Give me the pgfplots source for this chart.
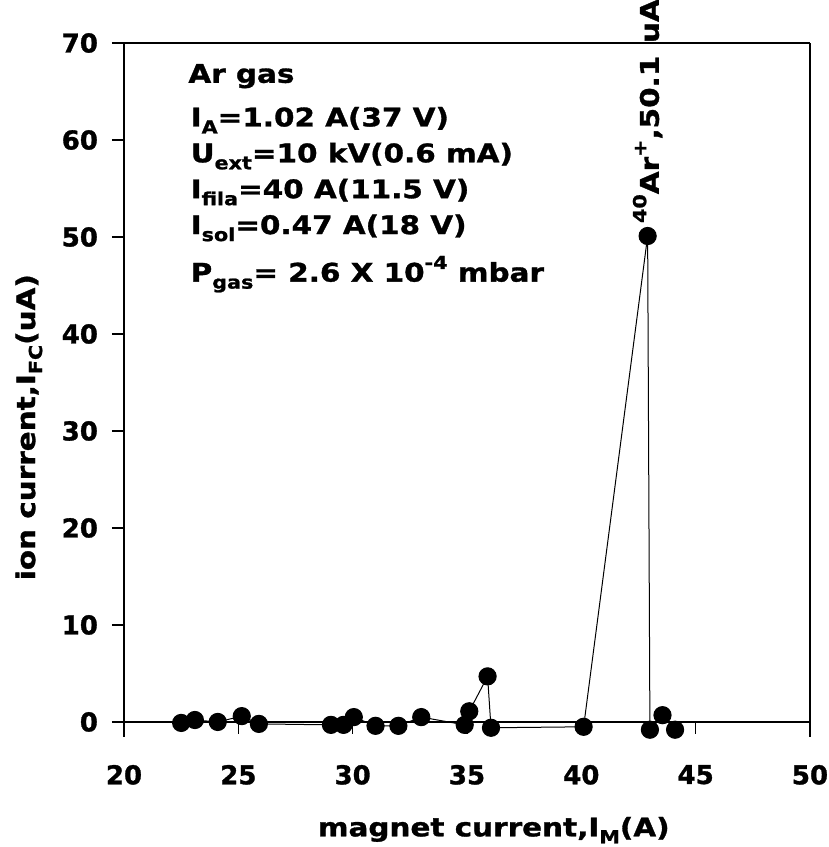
\documentclass[border=0pt]{standalone}
\usepackage{fontspec}
\usepackage{pgfplots}
\pgfplotsset{compat=1.18}
\setmainfont{DejaVu Sans Bold}[FakeBold=1.2]
\newfontfamily\widefont{DejaVu Sans Bold}[FakeStretch=1.15, FakeBold=1.2]
\newcommand{\sub}[1]{\raisebox{-0.5ex}{\fontsize{9}{10}\selectfont #1}}
\newcommand{\sups}[1]{\raisebox{0.9ex}{\fontsize{9}{10}\selectfont #1}}

\begin{document}
\begin{tikzpicture}
\begin{axis}[
  scale only axis,
  width=343pt, height=346.75pt,
  xmin=20, xmax=50, ymin=-1.5, ymax=70,
  axis y line=box,
  axis x line=middle,
  x axis line style={-},
  y axis line style={-},
  axis line style={line width=0.7pt},
  hide obscured x ticks=false,
  xtick={20,25,30,35,40,45,50},
  ytick={0,10,20,30,40,50,60,70},
  ytick pos=left,
  tick align=outside,
  major tick length=6pt,
  tick style={line width=0.6pt, black},
  /pgf/number format/assume math mode=true,
  tick label style={font=\fontsize{13}{15}\selectfont},
  xticklabel style={yshift=-12pt},
  yticklabel style={xshift=-3.5pt},
  xlabel={magnet current,I\sub{M}(A)},
  ylabel={ion current,I\sub{FC}(uA)},
  xlabel style={font=\widefont\fontsize{12.8}{15}\selectfont,
    at={(axis description cs:0.539,-0.135)}, anchor=center},
  ylabel style={font=\widefont\fontsize{12.8}{15}\selectfont,
    at={(axis description cs:-0.1385,0.446)}, anchor=center, rotate=0},
  clip=false,
]
% beam current versus analysing-magnet current
\addplot[black, line width=0.5pt, mark=*, mark size=4.3pt,
  mark options={fill=black}] coordinates {
  (22.5,-0.1) (23.1,0.2) (24.1,0.0) (25.15,0.6) (25.9,-0.2)
  (29.05,-0.3) (29.6,-0.3) (30.05,0.5) (31.0,-0.4) (32.0,-0.4)
  (33.0,0.5) (34.9,-0.3) (35.1,1.1) (35.9,4.7) (36.05,-0.6)
  (40.1,-0.5) (42.9,50.1) (43.0,-0.8) (43.55,0.7) (44.1,-0.8)
};
% top frame line
\draw[line width=0.7pt] (rel axis cs:0,1) -- (rel axis cs:1,1);
% source settings
\begin{scope}[every node/.style={font=\widefont\fontsize{12.8}{15}\selectfont, anchor=base west, inner sep=0pt}]
\node at (axis cs:22.8,65.9) {Ar gas};
\node at (axis cs:22.9,61.4) {I\sub{A}=1.02 A(37 V)};
\node at (axis cs:22.9,57.7) {U\sub{ext}=10 kV(0.6 mA)};
\node at (axis cs:22.9,54.0) {I\sub{fila}=40 A(11.5 V)};
\node at (axis cs:22.9,50.3) {I\sub{sol}=0.47 A(18 V)};
\node at (axis cs:22.9,45.4) {P\sub{gas}= 2.6 X 10\sups{-4} mbar};
\end{scope}
% peak annotation
\node[font=\widefont\fontsize{12.8}{15}\selectfont, rotate=90, anchor=west, inner sep=0pt]
  at (axis cs:42.9,51.4) {\sups{40}Ar\sups{+},50.1\hspace{0.5em}uA};
\coordinate (bbsw) at (rel axis cs:0,0);
\coordinate (bbne) at (rel axis cs:1,1);
\end{axis}
\pgfresetboundingbox
\path[use as bounding box] ([xshift=-62pt,yshift=-55.25pt]bbsw) rectangle ([xshift=9.5pt,yshift=21.5pt]bbne);
\end{tikzpicture}
\end{document}
